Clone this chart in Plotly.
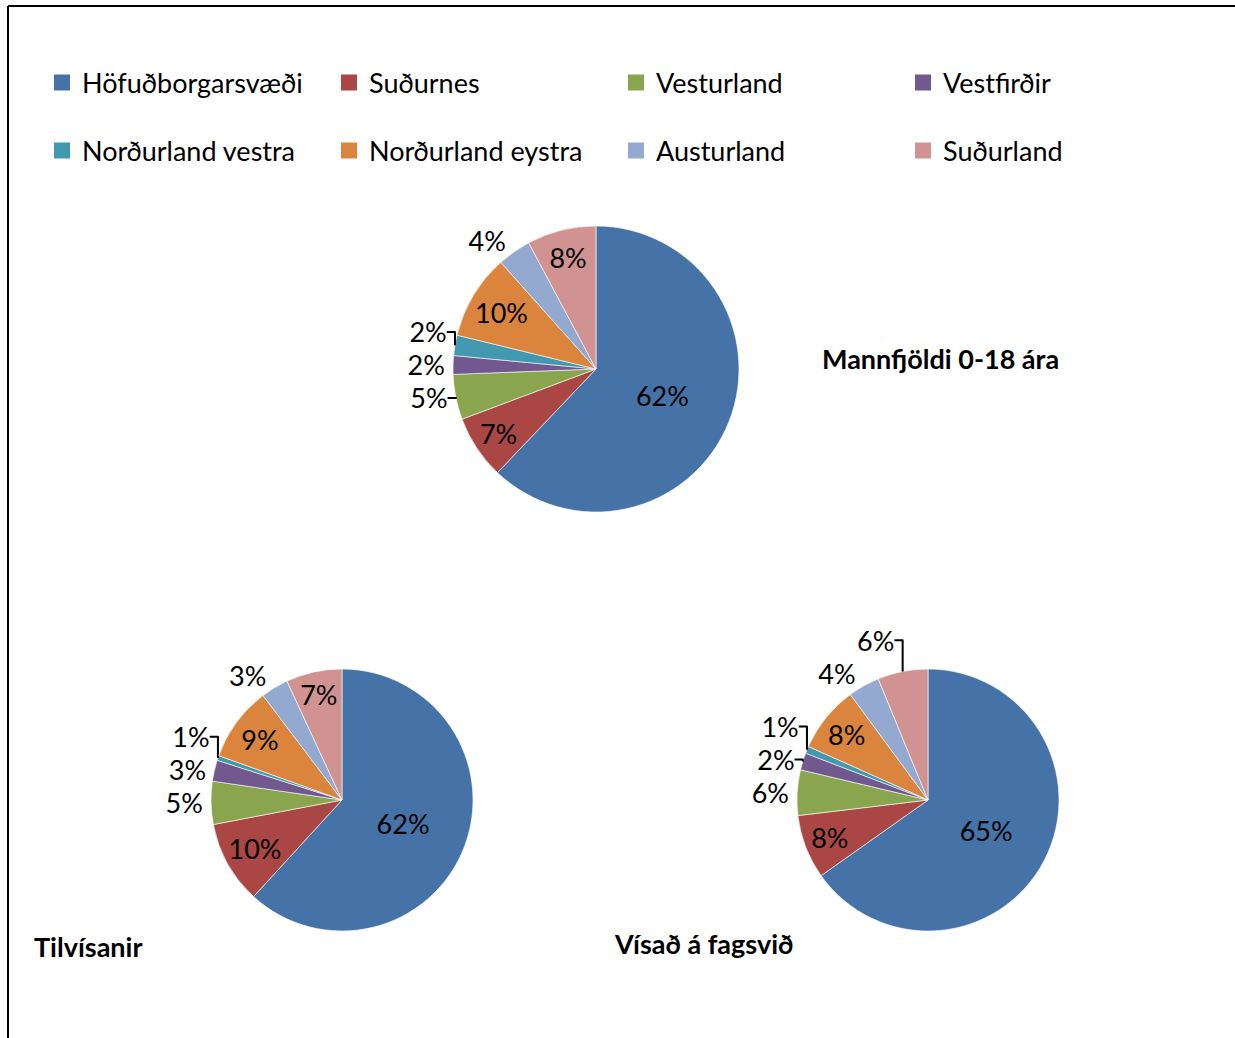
import plotly.graph_objects as go

regions = ["Höfuðborgarsvæði", "Suðurnes", "Vesturland", "Vestfirðir",
           "Norðurland vestra", "Norðurland eystra", "Austurland", "Suðurland"]
colors = ["#4572A7", "#AA4643", "#89A54E", "#71588F",
          "#4198AF", "#DB843D", "#93A9CF", "#D19392"]

mannfjoldi = [62.1, 7.2, 5.1, 2.1, 2.3, 9.6, 3.8, 7.8]
tilvisanir = [61.8, 10.2, 5.3, 2.6, 0.6, 9.2, 3.4, 6.9]
visad = [65.2, 7.9, 5.6, 2.1, 0.9, 8.2, 3.9, 6.2]

titles = ["Mannfjöldi 0-18 ára", "Tilvísanir", "Vísað á fagsvið"]

pos1 = ["inside", "inside", "outside", "outside", "outside", "inside", "outside", "inside"]
pos2 = ["inside", "inside", "outside", "outside", "outside", "inside", "outside", "inside"]
pos3 = ["inside", "inside", "outside", "outside", "outside", "inside", "outside", "outside"]

W, H = 1235, 1038
FONT = "Lato"

def px(x):
    return x / W

def py(y):
    return 1 - y / H

fig = go.Figure()

pies = [
    (mannfjoldi, pos1, [px(453), px(739)], [py(512), py(226)]),
    (tilvisanir, pos2, [px(211), px(473)], [py(931), py(669)]),
    (visad, pos3, [px(797), px(1059)], [py(931), py(669)]),
]
for vals, pos, dx, dy in pies:
    fig.add_trace(go.Pie(
        labels=regions, values=vals, sort=False, direction="clockwise", rotation=0,
        marker=dict(colors=colors, line=dict(color="rgba(255,255,255,0.6)", width=1)),
        texttemplate="%{percent:.0%}", textposition=pos,
        insidetextorientation="horizontal",
        textfont=dict(family=FONT, size=27, color="black"),
        insidetextfont=dict(family=FONT, size=27, color="black"),
        outsidetextfont=dict(family=FONT, size=27, color="black"),
        domain=dict(x=dx, y=dy), showlegend=False, hoverinfo="label+percent",
    ))

# legend entries (two rows of four)
for i, (name, col) in enumerate(zip(regions, colors)):
    fig.add_trace(go.Scatter(
        x=[None], y=[None], mode="markers", name=name,
        marker=dict(symbol="square", size=16, color=col),
        legend="legend" if i < 4 else "legend2",
    ))

legend_common = dict(
    orientation="h", xanchor="left", yanchor="middle",
    font=dict(family=FONT, size=27, color="black"),
    entrywidth=242, entrywidthmode="pixels",
    bgcolor="rgba(0,0,0,0)", itemclick=False, itemdoubleclick=False,
)

title_font = dict(family=FONT, size=27, color="black")

fig.update_layout(
    width=W, height=H,
    margin=dict(l=0, r=0, t=0, b=0),
    paper_bgcolor="white", plot_bgcolor="white",
    xaxis=dict(visible=False), yaxis=dict(visible=False),
    uniformtext=dict(minsize=27, mode="show"),
    legend=dict(x=px(42), y=py(83), **legend_common),
    legend2=dict(x=px(42), y=py(151), **legend_common),
    annotations=[
        dict(text="<b>" + titles[0] + "</b>", x=px(820), y=py(359), xref="paper", yref="paper",
             xanchor="left", yanchor="middle", showarrow=False, font=title_font),
        dict(text="<b>" + titles[1] + "</b>", x=px(32), y=py(946), xref="paper", yref="paper",
             xanchor="left", yanchor="middle", showarrow=False, font=title_font),
        dict(text="<b>" + titles[2] + "</b>", x=px(612), y=py(943), xref="paper", yref="paper",
             xanchor="left", yanchor="middle", showarrow=False, font=title_font),
    ],
    shapes=[
        dict(type="line", xref="paper", yref="paper", x0=px(8), x1=1, y0=py(6), y1=py(6),
             line=dict(color="black", width=2)),
        dict(type="line", xref="paper", yref="paper", x0=px(8), x1=px(8), y0=py(6), y1=0,
             line=dict(color="black", width=2)),
    ],
)

fig.write_html("out.html", config={"displayModeBar": False},
               post_script="document.body.style.margin='0';")
